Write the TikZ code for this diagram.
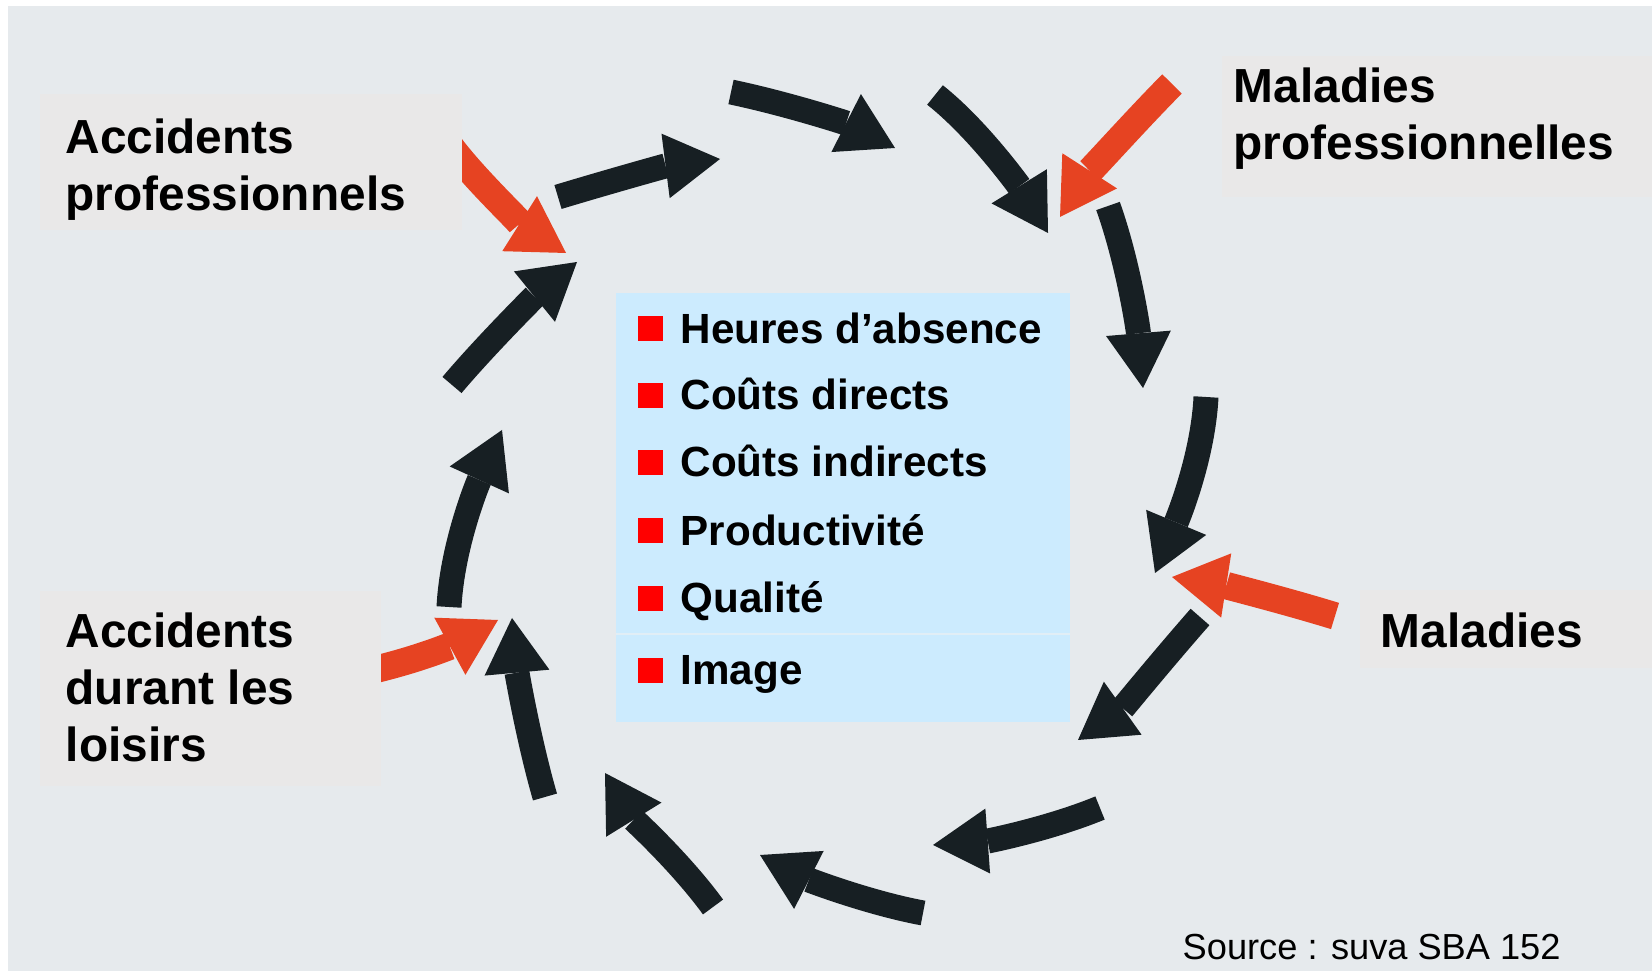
\documentclass[tikz,border=0pt]{standalone}
\usepackage{fontspec}
\setmainfont{Liberation Sans}
\usetikzlibrary{arrows.meta}
\definecolor{cyclebg}{RGB}{230,234,237}
\definecolor{labelgray}{RGB}{233,232,232}
\definecolor{costblue}{RGB}{204,235,254}
\definecolor{costline}{RGB}{225,238,246}
\definecolor{arrowblack}{RGB}{23,31,35}
\definecolor{arrowred}{RGB}{230,67,34}
\definecolor{bulletred}{RGB}{255,0,0}

\tikzset{
  cyclearrow/.style={draw=arrowblack, line width=7.1pt,
    -{Triangle[length=15.6pt, width=18.5pt, line width=0pt]}},
  causearrow/.style={draw=arrowred, line width=7.8pt,
    -{Triangle[length=15.6pt, width=18.5pt, line width=0pt]}},
  labeltext/.style={anchor=base west, inner sep=0pt, align=left,
    font=\fontsize{13.6pt}{16.3pt}\selectfont\bfseries},
  itemtext/.style={anchor=base west, inner sep=0pt,
    font=\fontsize{12pt}{14pt}\selectfont\bfseries},
}

\begin{document}
\begin{tikzpicture}[x=0.01cm, y=-0.01cm]
\useasboundingbox (0,0) rectangle (1652,971);
\fill[white] (0,0) rectangle (1652,971);
\fill[cyclebg] (8,6) rectangle (1652,971);

% Red arrows (causes)
\draw[causearrow] (450,146) .. controls (477,182) and (528,229) .. (566,253);
\draw[causearrow] (1172,84) .. controls (1140,116) and (1087,175) .. (1060,217);
\draw[causearrow] (1335,616) .. controls (1283,600) and (1223,585) .. (1172,577);
\draw[causearrow] (360,673) .. controls (419,660) and (454,644) .. (498,620);

% Labels (base = last line)
\fill[labelgray] (40,94) rectangle (462,230);
\node[labeltext] (accpro) at (65,211) {Accidents\\professionnels};
\fill[labelgray] (1222,56) rectangle (1652,197);
\node[labeltext] (malpro) at (1233,160) {Maladies\\professionnelles};
\fill[labelgray] (1360,590) rectangle (1652,668);
\node[labeltext] (mal) at (1380,648) {Maladies};
\fill[labelgray] (40,591) rectangle (381,786);
\node[labeltext] (accloi) at (65,762) {Accidents\\durant les\\loisirs};

% Black arrows (cycle)
\draw[cyclearrow] (558,197) .. controls (611,181) and (665,166) .. (720,159);
\draw[cyclearrow] (731,92) .. controls (788,104) and (846,123) .. (895,148);
\draw[cyclearrow] (935,95) .. controls (978,129) and (1019,186) .. (1048,233);
\draw[cyclearrow] (1108,206) .. controls (1128,262) and (1138,328) .. (1143,388);
\draw[cyclearrow] (1206,397) .. controls (1203,457) and (1178,518) .. (1155,573);
\draw[cyclearrow] (1200,617) .. controls (1164,658) and (1123,708) .. (1078,740);
\draw[cyclearrow] (1100,808) .. controls (1049,829) and (988,841) .. (933,845);
\draw[cyclearrow] (923,913) .. controls (869,903) and (809,880) .. (760,855);
\draw[cyclearrow] (713,907) .. controls (681,863) and (634,820) .. (605,773);
\draw[cyclearrow] (545,797) .. controls (529,742) and (517,673) .. (512,618);
\draw[cyclearrow] (449,607) .. controls (452,547) and (477,485) .. (502,430);
\draw[cyclearrow] (452,385) .. controls (484,347) and (534,297) .. (577,262);

% Costs
\fill[costblue] (616,293) rectangle (1070,722);
\draw[costline, line width=0.5pt] (616,634) -- (1070,634);
\fill[bulletred] (638,316) rectangle (663,341);
\node[itemtext] (heures) at (680,344) {Heures d’absence};
\fill[bulletred] (638,383) rectangle (663,408);
\node[itemtext] (directs) at (680,410) {Coûts directs};
\fill[bulletred] (638,450) rectangle (663,475);
\node[itemtext] (indirects) at (680,477) {Coûts indirects};
\fill[bulletred] (638,518) rectangle (663,543);
\node[itemtext] (produc) at (680,546) {Productivité};
\fill[bulletred] (638,586) rectangle (663,611);
\node[itemtext] (qualite) at (680,613) {Qualité};
\fill[bulletred] (638,658) rectangle (663,683);
\node[itemtext] (image) at (680,685) {Image};

% Source
\node[anchor=base west, inner sep=0pt, font=\fontsize{10.3pt}{12pt}\selectfont]
  (source) at (1182,959) {Source : suva SBA 152};
\end{tikzpicture}
\end{document}
